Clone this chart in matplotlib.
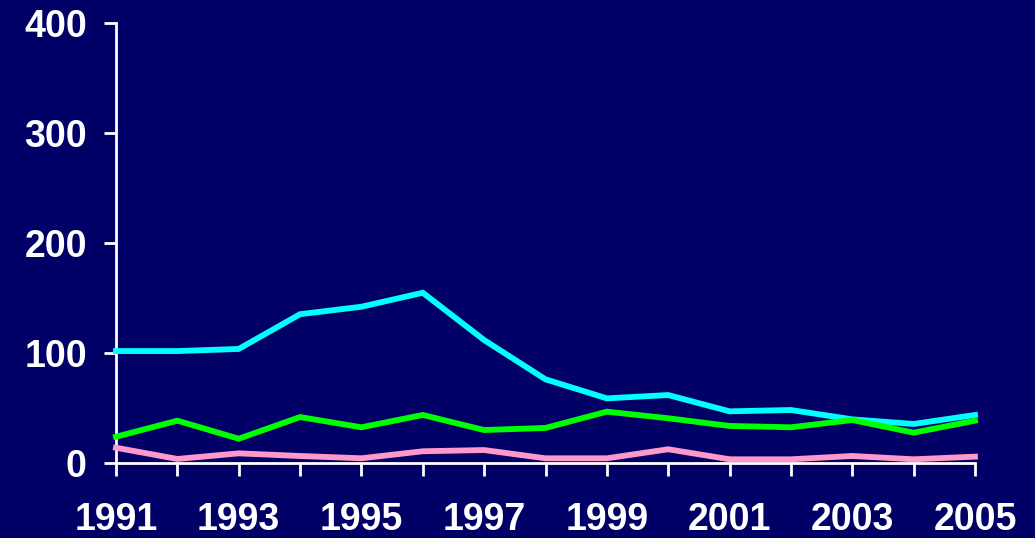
import matplotlib.pyplot as plt

years = list(range(1991, 2006))
cyan_vals = [101.5, 101.5, 103.4, 135, 141.8, 154.5, 111.5, 75.8, 58.5, 61.5, 46.7, 47.9, 39.4, 35.2, 43.4]
green_vals = [23.6, 38.2, 21.8, 41.5, 32.2, 43.4, 29.7, 31.6, 46.4, 40.4, 33.4, 32.2, 38.8, 27.3, 38.2]
pink_vals = [13.6, 3.4, 8.5, 6.1, 4.0, 10.4, 11.5, 4.0, 4.0, 12.2, 3.1, 3.1, 6.1, 3.1, 5.5]
year_labels = [str(y) for y in range(1991, 2006, 2)]
y_ticks = [0, 100, 200, 300, 400]

bg = "#000066"
plt.rcParams["font.family"] = ["Liberation Sans", "DejaVu Sans"]

fig = plt.figure(figsize=(10.35, 5.38), dpi=100, facecolor=bg)
ax = fig.add_axes([116 / 1035, (538 - 462.7) / 538, (975 - 116) / 1035, 440 / 538])
ax.set_facecolor(bg)

# series
ax.plot(years, cyan_vals, color="#00FFFF", lw=4.2, solid_joinstyle="miter", clip_on=False, zorder=3)
ax.plot(years, green_vals, color="#00FF00", lw=4.2, solid_joinstyle="miter", clip_on=False, zorder=3)
ax.plot(years, pink_vals, color="#FF99CC", lw=4.2, solid_joinstyle="miter", clip_on=False, zorder=3)

ax.set_xlim(1991, 2005)
ax.set_ylim(0, 400)

for side in ["top", "right"]:
    ax.spines[side].set_visible(False)
for side in ["left", "bottom"]:
    ax.spines[side].set_color("white")
    ax.spines[side].set_linewidth(2)

ax.set_xticks(years)
ax.set_xticklabels([str(y) if (y - 1991) % 2 == 0 else "" for y in years])
ax.set_yticks(y_ticks)
ax.set_yticklabels([str(v) for v in y_ticks])

ax.tick_params(axis="both", colors="white", width=2, length=9, direction="out",
               labelsize=27)
ax.tick_params(axis="y", pad=12)
ax.tick_params(axis="x", pad=19)
for lbl in ax.get_xticklabels() + ax.get_yticklabels():
    lbl.set_fontweight("bold")

fig.savefig("out.png", dpi=100, facecolor=bg)
